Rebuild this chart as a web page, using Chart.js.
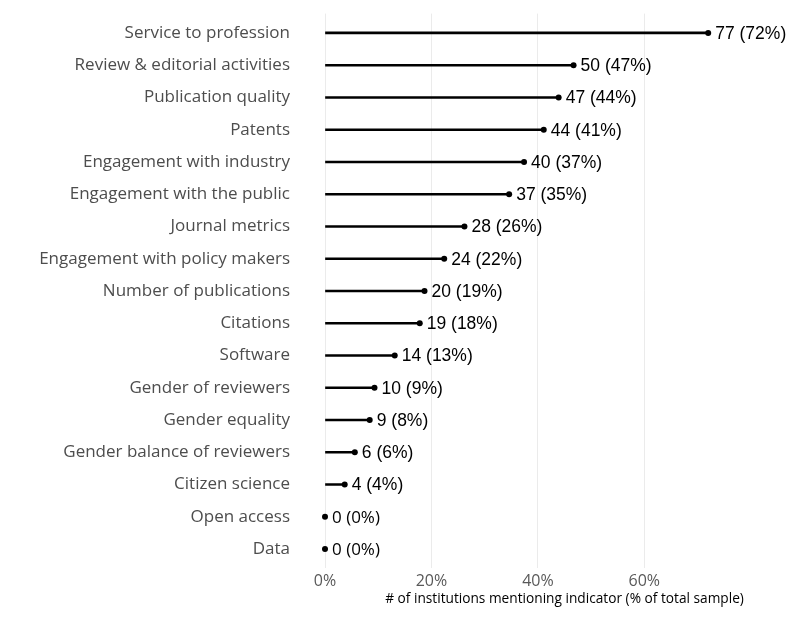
<!DOCTYPE html>
<html><head><meta charset="utf-8">
<script src="https://cdn.jsdelivr.net/npm/chart.js@4/dist/chart.umd.min.js"></script>
<style>html,body{margin:0;padding:0;background:#fff;}</style>
</head><body>
<canvas id="c" width="808" height="630"></canvas>
<script>
const categories = [
  "Service to profession",
  "Review & editorial activities",
  "Publication quality",
  "Patents",
  "Engagement with industry",
  "Engagement with the public",
  "Journal metrics",
  "Engagement with policy makers",
  "Number of publications",
  "Citations",
  "Software",
  "Gender of reviewers",
  "Gender equality",
  "Gender balance of reviewers",
  "Citizen science",
  "Open access",
  "Data"
];
const counts = [77, 50, 47, 44, 40, 37, 28, 24, 20, 19, 14, 10, 9, 6, 4, 0, 0];
const percents = [72.0, 46.7, 43.9, 41.1, 37.4, 34.6, 26.2, 22.4, 18.7, 17.8, 13.1, 9.3, 8.4, 5.6, 3.7, 0, 0];
const percentLabels = [72, 47, 44, 41, 37, 35, 26, 22, 19, 18, 13, 9, 8, 6, 4, 0, 0];
const xTicks = [0, 20, 40, 60];
const axisTitle = "# of institutions mentioning indicator (% of total sample)";

const points = percents.map((p, i) => ({ x: p, y: i }));

const valueLabels = {
  id: 'valueLabels',
  afterDatasetsDraw(chart) {
    const meta = chart.getDatasetMeta(1);
    const ctx = chart.ctx;
    ctx.save();
    ctx.fillStyle = '#000';
    ctx.textBaseline = 'middle';
    ctx.textAlign = 'left';
    meta.data.forEach((pt, i) => {
      ctx.font = counts[i] === 0
        ? '17px "Open Sans", sans-serif'
        : '17.5px "Liberation Sans", Arial, sans-serif';
      ctx.fillText(counts[i] + ' (' + percentLabels[i] + '%)', pt.x + 7, pt.y + 1);
    });
    ctx.restore();
  }
};

new Chart(document.getElementById('c'), {
  type: 'bar',
  data: {
    datasets: [
      {
        type: 'bar',
        indexAxis: 'y',
        data: points,
        backgroundColor: '#000',
        barThickness: 2,
        borderWidth: 0
      },
      {
        type: 'scatter',
        data: points,
        backgroundColor: '#000',
        borderWidth: 0,
        pointRadius: 3,
        clip: false
      }
    ]
  },
  options: {
    responsive: false,
    animation: false,
    indexAxis: 'y',
    layout: { padding: { top: 13.6, right: 3, bottom: 0, left: 0 } },
    plugins: { legend: { display: false }, tooltip: { enabled: false } },
    scales: {
      x: {
        type: 'linear',
        min: 0,
        max: 90,
        offset: false,
        afterBuildTicks(scale) { scale.ticks = xTicks.map(v => ({ value: v })); },
        afterFit(scale) { scale.height = 61.6; scale.paddingLeft = 0; scale.paddingRight = 0; },
        grid: { color: '#ebebeb', lineWidth: 1, drawTicks: false, offset: false },
        border: { display: false },
        ticks: {
          padding: 3,
          color: '#595959',
          font: { family: '"Open Sans"', size: 16 },
          callback: v => v + '%'
        },
        title: {
          display: true,
          text: axisTitle,
          color: '#000',
          font: { family: '"Open Sans"', size: 13.7 },
          padding: { top: 0, bottom: 23 }
        }
      },
      y: {
        type: 'linear',
        reverse: true,
        min: -0.6,
        max: 16.6,
        offset: false,
        afterFit(scale) { scale.width = 325; scale.paddingTop = 0; scale.paddingBottom = 0; },
        grid: { display: false, drawTicks: false, offset: false },
        border: { display: false },
        ticks: {
          stepSize: 1,
          includeBounds: false,
          autoSkip: false,
          padding: 35,
          color: '#4d4d4d',
          font: { family: '"Open Sans"', size: 17 },
          callback: v => (Number.isInteger(v) && categories[v] !== undefined) ? categories[v] : ''
        }
      }
    }
  },
  plugins: [valueLabels]
});
</script>
</body></html>
